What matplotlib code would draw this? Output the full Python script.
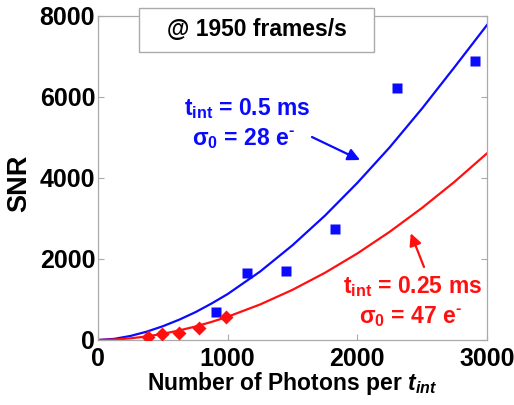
import numpy as np
import matplotlib
matplotlib.use('Agg')
import matplotlib.pyplot as plt
from matplotlib.patches import Rectangle

plt.rcParams['font.family'] = ['Liberation Sans', 'DejaVu Sans']
plt.rcParams['font.weight'] = 'bold'
plt.rcParams['mathtext.fontset'] = 'custom'
plt.rcParams['mathtext.rm'] = 'Liberation Sans:bold'
plt.rcParams['mathtext.bf'] = 'Liberation Sans:bold'
plt.rcParams['mathtext.it'] = 'Liberation Sans:italic:bold'

# measured points
photons_05 = [910, 1150, 1450, 1830, 2305, 2905]
snr_05 = [690, 1650, 1700, 2740, 6220, 6890]
photons_025 = [386, 496, 625, 781, 987]
snr_025 = [81, 141, 180, 304, 560]

# fitted curves
fit_x = [0, 125, 250, 375, 500, 625, 750, 875, 1000, 1250, 1500, 1750, 2000,
         2250, 2500, 2750, 3000]
fit_05 = [0, 28, 100, 205, 340, 500, 685, 900, 1135, 1690, 2340, 3070, 3880,
          4760, 5720, 6740, 7778]
fit_025 = [0, 11, 41, 88, 153, 235, 332, 446, 574, 877, 1239, 1659, 2137,
           2673, 3264, 3908, 4609]

xticks = [0, 1000, 2000, 3000]
yticks = [0, 2000, 4000, 6000, 8000]

blue = '#0a0aff'
red = '#ff1010'
fs = 16.5

fig = plt.figure(figsize=(5.14, 4.05), dpi=100)
ax = fig.add_axes([0.1907, 0.1605, 0.7568, 0.80])

ax.plot(fit_x, fit_05, color=blue, lw=1.6, zorder=2)
ax.plot(fit_x, fit_025, color=red, lw=1.6, zorder=2)
ax.plot(photons_05, snr_05, 's', color=blue, ms=7, mec='none', zorder=3)
ax.plot(photons_025, snr_025, 'D', color=red, ms=7.5, mec='none', zorder=3)

ax.set_xlim(0, 3000)
ax.set_ylim(0, 8000)
ax.set_xticks(xticks)
ax.set_yticks(yticks)
ax.tick_params(direction='in', length=4, width=0.8, color='#aaaaaa',
               top=True, right=True, labelsize=18, pad=2)
ax.tick_params(axis='x', pad=5)
for lab in ax.get_xticklabels() + ax.get_yticklabels():
    lab.set_fontweight('bold')
for sp in ax.spines.values():
    sp.set_color('#aaaaaa')
    sp.set_linewidth(0.9)

ax.set_xlabel(r'Number of Photons per $t_{int}$', fontsize=fs,
              fontweight='bold', labelpad=-1)
ax.set_ylabel('SNR', fontsize=19.5, fontweight='bold')
ax.yaxis.set_label_coords(-0.170, 0.483)

# title box
box = Rectangle((0.105, 0.889), 0.605, 0.136, transform=ax.transAxes,
                facecolor='white', edgecolor='#aaaaaa', lw=1.0,
                clip_on=False, zorder=5)
ax.add_patch(box)
ax.text(0.4075, 0.957, '@ 1950 frames/s', transform=ax.transAxes,
        ha='center', va='center', fontsize=fs, fontweight='bold', zorder=6)

# annotations
ax.text(1635, 5560, r'$\mathbf{t_{int}}$ = 0.5 ms', color=blue, fontsize=fs,
        fontweight='bold', ha='right', va='baseline')
ax.text(1519, 4815, r'$\mathbf{\sigma_0}$ = 28 e$^{\text{-}}$', color=blue,
        fontsize=fs, fontweight='bold', ha='right', va='baseline')
ax.annotate('', xy=(2021, 4444), xytext=(1650, 5012),
            arrowprops=dict(arrowstyle='-|>', color=blue, lw=1.6,
                            mutation_scale=18, shrinkA=0, shrinkB=0))

ax.text(2961, 1152, r'$\mathbf{t_{int}}$ = 0.25 ms', color=red, fontsize=fs,
        fontweight='bold', ha='right', va='baseline')
ax.text(2807, 411, r'$\mathbf{\sigma_0}$ = 47 e$^{\text{-}}$', color=red,
        fontsize=fs, fontweight='bold', ha='right', va='baseline')
ax.annotate('', xy=(2412, 2635), xytext=(2514, 1802),
            arrowprops=dict(arrowstyle='-|>', color=red, lw=1.6,
                            mutation_scale=18, shrinkA=0, shrinkB=0))

fig.savefig('out.png', dpi=100)
